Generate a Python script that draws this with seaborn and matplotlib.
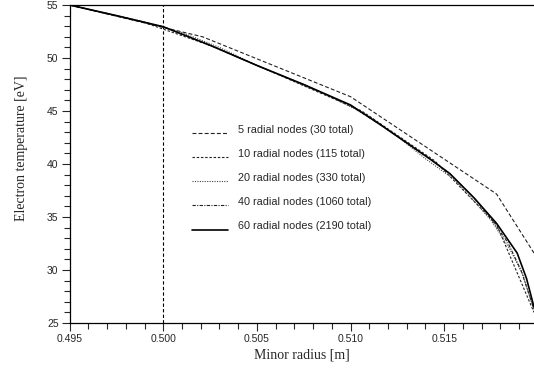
import matplotlib
matplotlib.use("Agg")
import matplotlib.pyplot as plt
import matplotlib.transforms as mtransforms
import seaborn as sns
from matplotlib.ticker import MultipleLocator, FormatStrFormatter

# ---------------------------------------------------------------
# DATA
# ---------------------------------------------------------------
labels = [
    "5 radial nodes (30 total)",
    "10 radial nodes (115 total)",
    "20 radial nodes (330 total)",
    "40 radial nodes (1060 total)",
    "60 radial nodes (2190 total)",
]

r5 = [0.495, 0.5021, 0.5100, 0.5178, 0.5198]
te5 = [55.0, 52.0, 46.35, 37.17, 31.6]

r10 = [0.495, 0.4989, 0.5028, 0.5067, 0.5106, 0.5145, 0.5178, 0.5198]
te10 = [55.0, 53.4, 51.0, 48.0, 45.0, 40.3, 34.3, 26.0]

r20 = [0.495, 0.497, 0.499, 0.501, 0.503, 0.505, 0.507, 0.509, 0.511,
       0.5125, 0.514, 0.5155, 0.5165, 0.5175, 0.5185, 0.5192, 0.5198]
te20 = [55.0, 54.2, 53.4, 52.4, 51.0, 49.3, 47.8, 46.3, 44.5,
        42.6, 40.5, 38.6, 36.7, 34.7, 32.0, 29.6, 26.2]

r40 = [0.495, 0.4975, 0.500, 0.5025, 0.505, 0.5075, 0.510, 0.5116, 0.513,
       0.5143, 0.5153, 0.5166, 0.5176, 0.5184, 0.5191, 0.5198]
te40 = [55.0, 54.0, 52.95, 51.2, 49.3, 47.5, 45.5, 43.7, 42.0,
        40.4, 39.1, 36.8, 34.6, 32.6, 30.0, 26.3]

r60 = [0.495, 0.4975, 0.500, 0.5025, 0.505, 0.5075, 0.510, 0.5116, 0.513,
       0.5143, 0.5153, 0.5166, 0.5178, 0.5189, 0.5194, 0.5198]
te60 = [55.0, 54.0, 52.95, 51.2, 49.3, 47.5, 45.57, 43.7, 42.0,
        40.4, 39.1, 36.8, 34.4, 31.6, 29.2, 26.5]

x_marker = 0.500

# ---------------------------------------------------------------
# STYLE
# ---------------------------------------------------------------
sns.set_style("ticks")
plt.rcParams["font.family"] = ["Liberation Sans", "DejaVu Sans"]

fig = plt.figure(figsize=(5.34, 3.69), dpi=100)
ax = fig.add_axes([0.1305, 0.1247, 0.8695, 0.8617])

series = [(r5, te5), (r10, te10), (r20, te20), (r40, te40), (r60, te60)]
styles = [(0, (3.5, 2)), (0, (2.2, 1.6)), (0, (1, 1.2)), (0, (3, 1.2, 1, 1.2)), "-"]
widths = [0.8, 0.8, 0.8, 0.8, 1.2]
colors = ["#222222", "#222222", "#444444", "#222222", "black"]

for (r, te), lab, ls, lw, c in zip(series, labels, styles, widths, colors):
    sns.lineplot(x=r, y=te, ax=ax, color=c, linestyle=ls, linewidth=lw,
                 label=lab, sort=False)

ax.axvline(x_marker, color="black", linestyle=(0, (3, 2)), linewidth=0.8)

ax.set_xlim(0.495, 0.5198)
ax.set_ylim(25, 55)
ax.xaxis.set_major_locator(MultipleLocator(0.005))
ax.xaxis.set_minor_locator(MultipleLocator(0.001))
ax.xaxis.set_major_formatter(FormatStrFormatter("%.3f"))
ax.yaxis.set_major_locator(MultipleLocator(5))
ax.yaxis.set_minor_locator(MultipleLocator(1))

ax.tick_params(which="major", direction="out", length=6, width=0.8,
               labelsize=7.5, pad=2)
ax.tick_params(which="minor", direction="out", length=4, width=0.8)
ax.tick_params(top=False, right=False, which="both")

for side in ["left", "bottom", "top"]:
    ax.spines[side].set_linewidth(0.9)
    ax.spines[side].set_color("black")
ax.spines["right"].set_visible(False)

ax.set_xlabel("Minor radius [m]", family="Liberation Serif", fontsize=10, labelpad=3)
ax.set_ylabel("Electron temperature [eV]", family="Liberation Serif", fontsize=10)
ax.yaxis.set_label_coords(-0.09, 0.55)

leg = ax.legend(loc="upper left", bbox_to_anchor=(192 / 534, 1 - 125 / 369),
                bbox_transform=fig.transFigure, frameon=False, fontsize=7.8,
                handlelength=3.3, handletextpad=0.9, labelspacing=1.3,
                borderpad=0, borderaxespad=0)

# legend samples sit a little below the text centre in the original
shift = mtransforms.ScaledTranslation(0, -4 / 100, fig.dpi_scale_trans)
for h in leg.get_lines():
    h.set_transform(h.get_transform() + shift)

fig.savefig("out.png", dpi=100)
plt.close(fig)
